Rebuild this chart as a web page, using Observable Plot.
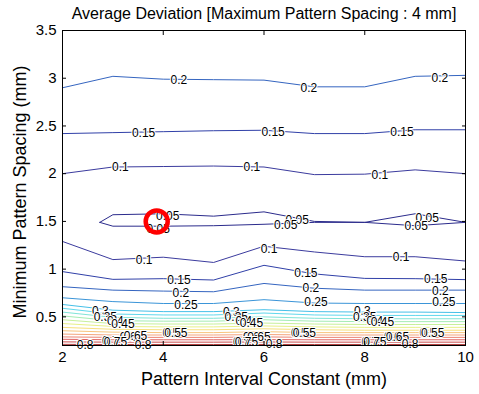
<!DOCTYPE html>
<html>
<head>
<meta charset="utf-8">
<script src="https://cdn.jsdelivr.net/npm/d3@7"></script>
<script src="https://cdn.jsdelivr.net/npm/@observablehq/plot@0.6"></script>
<style>
  body { margin: 0; background: #fff; }
  #chart svg { display: block; }
</style>
</head>
<body>
<div id="chart"></div>
<script>
// Grid of pattern interval constants (mm) at which the contours were traced
const xGrid = [2, 3, 4, 5, 6, 7, 8, 9, 10];
// The 0.05 level closes on itself at its left end
const xGrid005 = [2.74, 3, 4, 5, 6, 7, 8, 9, 10];

// Contour levels of the average deviation and their line colours
const levels = [0.05, 0.1, 0.15, 0.2, 0.25, 0.3, 0.35, 0.4, 0.45, 0.5, 0.55, 0.6, 0.65, 0.7, 0.75, 0.8, 0.85, 0.9];
const levelColors = ["#2b2b8c", "#3b3b9e", "#3040a8", "#3565c0", "#3b95d8", "#45c0e8", "#60d8ec", "#80e4d8", "#a4ecb4",
  "#c8f09a", "#e8f088", "#f6e07c", "#f8c47c", "#f4a47c", "#ec8474", "#e06464", "#cc4c4c", "#b03c3c"];

// Minimum pattern spacing (mm) of each contour line along the grid
const c005Upper = [1.49, 1.57, 1.58, 1.555, 1.60, 1.50, 1.49, 1.58, 1.49];
const c005Lower = [1.49, 1.45, 1.45, 1.455, 1.47, 1.49, 1.49, 1.455, 1.49];
const c010Upper = [2.00, 2.07, 2.075, 2.08, 2.07, 1.99, 1.995, 2.04, 2.00];
const c015Upper = [2.42, 2.43, 2.44, 2.45, 2.455, 2.42, 2.42, 2.46, 2.46];
const c020Upper = [2.90, 3.02, 2.99, 2.985, 2.98, 2.91, 2.91, 3.02, 3.03];
const c010Lower = [1.29, 1.10, 1.125, 1.07, 1.24, 1.18, 1.13, 1.13, 1.085];
const c015Lower = [0.974, 0.893, 0.90, 0.886, 1.04, 0.95, 0.903, 0.90, 0.89];
const c020Lower = [0.816, 0.78, 0.77, 0.763, 0.85, 0.80, 0.78, 0.78, 0.78];
const c025 = [0.70, 0.66, 0.64, 0.64, 0.68, 0.645, 0.64, 0.64, 0.64];
const c030 = [0.63, 0.57, 0.555, 0.555, 0.575, 0.555, 0.55, 0.55, 0.545];
const c035 = [0.59, 0.53, 0.52, 0.52, 0.54, 0.52, 0.515, 0.515, 0.515];
const c040 = [0.55, 0.495, 0.485, 0.485, 0.50, 0.485, 0.48, 0.48, 0.48];
const c045 = [0.51, 0.46, 0.455, 0.455, 0.47, 0.455, 0.45, 0.45, 0.45];
const c050 = [0.47, 0.43, 0.425, 0.425, 0.435, 0.425, 0.42, 0.42, 0.42];
const c055 = [0.43, 0.40, 0.395, 0.395, 0.405, 0.395, 0.39, 0.39, 0.39];
const c060 = [0.39, 0.37, 0.365, 0.365, 0.375, 0.365, 0.36, 0.36, 0.36];
const c065 = [0.355, 0.34, 0.335, 0.335, 0.345, 0.335, 0.335, 0.335, 0.335];
const c070 = [0.32, 0.31, 0.31, 0.31, 0.315, 0.31, 0.31, 0.31, 0.31];
const c075 = [0.29, 0.285, 0.285, 0.285, 0.29, 0.285, 0.285, 0.285, 0.285];
const c080 = [0.265, 0.26, 0.26, 0.26, 0.262, 0.26, 0.26, 0.26, 0.26];
const c085 = [0.238, 0.235, 0.235, 0.235, 0.237, 0.235, 0.235, 0.235, 0.235];
const c090 = [0.212, 0.21, 0.21, 0.21, 0.211, 0.21, 0.21, 0.21, 0.21];

// Inline contour labels: level shown and where it sits
const labelLevel = [
  0.2, 0.2, 0.2, 0.15, 0.15, 0.15, 0.1, 0.1, 0.1,
  0.05, 0.05, 0.05, 0.05, 0.05, 0.05,
  0.1, 0.1, 0.1, 0.15, 0.15, 0.15, 0.2, 0.2, 0.2, 0.25, 0.25, 0.25,
  0.3, 0.35, 0.4, 0.45, 0.5, 0.55, 0.6, 0.65, 0.7, 0.75, 0.8, 0.8,
  0.3, 0.35, 0.4, 0.45, 0.5, 0.55, 0.6, 0.65, 0.7, 0.75, 0.8,
  0.3, 0.35, 0.4, 0.45, 0.5, 0.55, 0.6, 0.65, 0.7, 0.75, 0.8
];
const labelX = [
  4.31, 6.89, 9.49, 3.61, 6.18, 8.74, 3.15, 5.76, 8.30,
  4.09, 3.90, 6.66, 6.43, 9.24, 9.02,
  3.62, 6.10, 8.72, 4.31, 6.83, 9.41, 4.35, 6.93, 9.50, 4.45, 7.03, 9.57,
  2.75, 2.85, 3.05, 3.20, 4.15, 4.25, 3.30, 3.45, 2.95, 3.05, 2.45, 3.60,
  5.35, 5.45, 5.60, 5.75, 6.70, 6.80, 5.75, 5.90, 5.55, 5.65, 6.20,
  7.95, 8.00, 8.20, 8.35, 9.25, 9.35, 8.55, 8.65, 8.10, 8.20, 8.90
];
const labelY = [
  2.98, 2.897, 3.00, 2.42, 2.43, 2.44, 2.07, 2.07, 1.985,
  1.553, 1.42, 1.518, 1.46, 1.53, 1.455,
  1.09, 1.21, 1.13, 0.886, 0.956, 0.893, 0.753, 0.80, 0.774, 0.623, 0.658, 0.658,
  0.56, 0.50, 0.46, 0.42, 0.33, 0.325, 0.29, 0.30, 0.245, 0.24, 0.205, 0.205,
  0.55, 0.50, 0.46, 0.43, 0.33, 0.325, 0.29, 0.29, 0.235, 0.23, 0.21,
  0.555, 0.50, 0.46, 0.44, 0.33, 0.325, 0.29, 0.29, 0.235, 0.23, 0.21
];

// Highlighted point
const markX = [3.87];
const markY = [1.5];

const xTicks = [2, 4, 6, 8, 10];
const yTicks = [0.5, 1, 1.5, 2, 2.5, 3, 3.5];

const titleText = "Average Deviation [Maximum Pattern Spacing : 4 mm]";
const xTitle = "Pattern Interval Constant (mm)";
const yTitle = "Minimum Pattern Spacing (mm)";

// Assemble the contour polylines as one tidy table
const lines = [];
function addLine(id, level, xs, ys) {
  xs.forEach((x, i) => lines.push({id, level, x, y: ys[i]}));
}
addLine("005u", 0.05, xGrid005, c005Upper);
addLine("005l", 0.05, xGrid005, c005Lower);
addLine("010u", 0.1, xGrid, c010Upper);
addLine("015u", 0.15, xGrid, c015Upper);
addLine("020u", 0.2, xGrid, c020Upper);
addLine("010l", 0.1, xGrid, c010Lower);
addLine("015l", 0.15, xGrid, c015Lower);
addLine("020l", 0.2, xGrid, c020Lower);
[[0.25, c025], [0.3, c030], [0.35, c035], [0.4, c040], [0.45, c045], [0.5, c050], [0.55, c055],
 [0.6, c060], [0.65, c065], [0.7, c070], [0.75, c075], [0.8, c080], [0.85, c085], [0.9, c090]]
  .forEach(([lv, ys]) => addLine("c" + lv, lv, xGrid, ys));

const labels = labelLevel.map((lv, i) => ({level: lv, x: labelX[i], y: labelY[i]}));
const marks = markX.map((x, i) => ({x, y: markY[i]}));

const font = "'Liberation Sans', Arial, Helvetica, sans-serif";

const chart = Plot.plot({
  width: 479,
  height: 394,
  marginLeft: 62,
  marginRight: 14,
  marginTop: 30,
  marginBottom: 49,
  style: {fontFamily: font, background: "#fff", color: "#000", overflow: "visible"},
  x: {domain: [2, 10]},
  y: {domain: [0.2, 3.5]},
  color: {type: "ordinal", domain: levels, range: levelColors},
  marks: [
    Plot.line(lines, {x: "x", y: "y", z: "id", stroke: "level", strokeWidth: 1, curve: "linear"}),
    Plot.text(labels, {x: "x", y: "y", text: d => String(d.level), fontSize: 12, fill: "#000",
      stroke: "#fff", strokeWidth: 2}),
    Plot.dot(marks, {x: "x", y: "y", r: 11, stroke: "#ff0000", strokeWidth: 4.5, fill: "none"}),
    Plot.frame({stroke: "#000", strokeWidth: 1}),
    // inward ticks on all four sides
    Plot.axisX({anchor: "bottom", ticks: xTicks, tickSize: -4, tickFormat: () => "", label: null}),
    Plot.axisX({anchor: "top", ticks: xTicks, tickSize: -4, tickFormat: () => "", label: null}),
    Plot.axisY({anchor: "left", ticks: yTicks, tickSize: -4, tickFormat: () => "", label: null}),
    Plot.axisY({anchor: "right", ticks: yTicks, tickSize: -4, tickFormat: () => "", label: null}),
    // tick labels
    Plot.axisX({anchor: "bottom", ticks: xTicks, tickSize: 0, tickPadding: 6, fontSize: 15,
      tickFormat: d => String(d), label: null}),
    Plot.axisY({anchor: "left", ticks: yTicks, tickSize: 0, tickPadding: 6, fontSize: 15,
      tickFormat: d => String(d), label: null}),
    // titles
    Plot.text([titleText], {frameAnchor: "top", dy: -17, lineAnchor: "middle", textAnchor: "middle",
      fontSize: 16, text: d => d}),
    Plot.text([xTitle], {frameAnchor: "bottom", dy: 34, lineAnchor: "middle", textAnchor: "middle",
      fontSize: 18, text: d => d}),
    Plot.text([yTitle], {frameAnchor: "left", dx: -42, dy: 4, rotate: -90, lineAnchor: "middle",
      textAnchor: "middle", fontSize: 18, text: d => d})
  ]
});

document.getElementById("chart").appendChild(chart);
</script>
</body>
</html>
